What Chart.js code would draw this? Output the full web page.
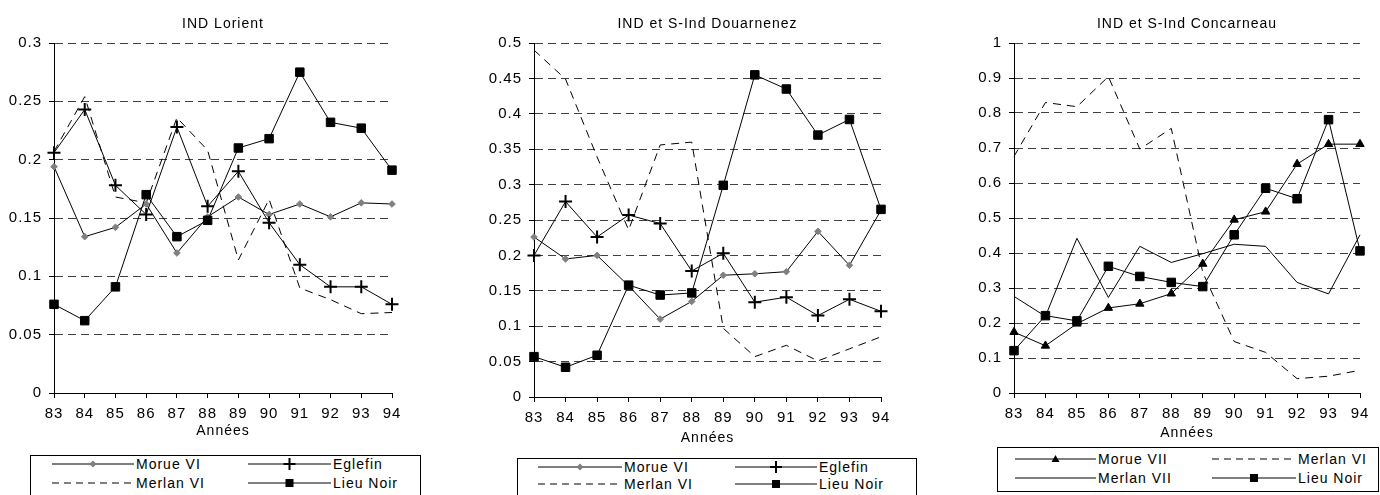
<!DOCTYPE html>
<html>
<head>
<meta charset="utf-8">
<script src="https://cdn.jsdelivr.net/npm/chart.js@4.4.1/dist/chart.umd.min.js"></script>
<style>
  body { margin: 0; width: 1380px; height: 495px; overflow: hidden; background: #fff;
         position: relative; font-family: "Liberation Sans", Arial, sans-serif; }
  canvas { position: absolute; top: 0; }
  .legend { position: absolute; border: 1px solid #000; box-sizing: border-box; background: #fff; }
  .item { position: absolute; height: 18px; display: flex; align-items: center;
          font-size: 14px; letter-spacing: 1px; white-space: nowrap; color: #000; }
  .item svg { display: block; margin-right: 2px; }
</style>
</head>
<body>
<canvas id="lorient"></canvas>
<canvas id="douarnenez"></canvas>
<canvas id="concarneau"></canvas>
<div class="legend" id="leg1" style="left:30px;top:455px;width:391px;height:60px"></div>
<div class="legend" id="leg2" style="left:517px;top:458px;width:400px;height:60px"></div>
<div class="legend" id="leg3" style="left:997px;top:447px;width:382px;height:45px"></div>
<script>
const FONT = '"Liberation Sans", Arial, sans-serif';

// ---------------------- Data ----------------------
const YEARS = ['83', '84', '85', '86', '87', '88', '89', '90', '91', '92', '93', '94'];

// IND Lorient
const lorientMorueVI   = [0.194, 0.134, 0.142, 0.162, 0.120, 0.151, 0.168, 0.153, 0.162, 0.151, 0.163, 0.162];
const lorientEglefin   = [0.206, 0.243, 0.178, 0.153, 0.228, 0.160, 0.190, 0.146, 0.110, 0.091, 0.091, 0.076];
const lorientMerlanVI  = [0.207, 0.254, 0.168, 0.163, 0.236, 0.208, 0.114, 0.166, 0.090, 0.080, 0.068, 0.069];
const lorientLieuNoir  = [0.076, 0.062, 0.091, 0.170, 0.134, 0.148, 0.210, 0.218, 0.275, 0.232, 0.227, 0.191];

// IND et S-Ind Douarnenez
const douarnMorueVI    = [0.226, 0.195, 0.200, 0.157, 0.110, 0.135, 0.172, 0.174, 0.177, 0.234, 0.186, 0.264];
const douarnEglefin    = [0.200, 0.276, 0.226, 0.257, 0.245, 0.178, 0.203, 0.134, 0.141, 0.115, 0.138, 0.121];
const douarnMerlanVI   = [0.490, 0.449, 0.339, 0.236, 0.356, 0.360, 0.097, 0.057, 0.073, 0.051, 0.068, 0.085];
const douarnLieuNoir   = [0.057, 0.042, 0.059, 0.158, 0.144, 0.147, 0.299, 0.455, 0.435, 0.370, 0.392, 0.265];

// IND et S-Ind Concarneau
const concMorueVII     = [0.174, 0.135, 0.198, 0.243, 0.255, 0.284, 0.369, 0.495, 0.518, 0.654, 0.711, 0.711];
const concMerlanVI     = [0.676, 0.830, 0.818, 0.904, 0.697, 0.756, 0.345, 0.147, 0.116, 0.041, 0.048, 0.065];
const concMerlanVII    = [0.276, 0.219, 0.442, 0.273, 0.419, 0.373, 0.398, 0.425, 0.419, 0.316, 0.283, 0.452];
const concLieuNoir     = [0.121, 0.221, 0.206, 0.362, 0.333, 0.316, 0.304, 0.452, 0.585, 0.555, 0.781, 0.406];

// ---------------------- Series styles ----------------------
// lower "order" is drawn on top
const base = { borderColor: '#000', borderWidth: 1, tension: 0, clip: false, fill: false };
const STYLE = {
  morue:   { ...base, order: 2, pointStyle: 'rectRot', pointRadius: 3.3, pointBackgroundColor: '#808080', pointBorderColor: '#808080', pointBorderWidth: 1 },
  eglefin: { ...base, order: 1, pointStyle: 'cross', pointRadius: 6.5, pointBorderColor: '#000', pointBorderWidth: 2 },
  merlan:  { ...base, order: 3, borderDash: [8, 6], pointRadius: 0 },
  merlan7: { ...base, order: 3, pointRadius: 0 },
  lieu:    { ...base, order: 0, pointStyle: 'rect', pointRadius: 6, pointBackgroundColor: '#000', pointBorderColor: '#000', pointBorderWidth: 1 },
  morue7:  { ...base, order: 1, pointStyle: 'triangle', pointRadius: 4.8, pointBackgroundColor: '#000', pointBorderColor: '#000', pointBorderWidth: 1 },
};

// canvas letter spacing (the original has wide text)
const spacing = { id: 'spacing', beforeDraw: (chart) => { chart.ctx.letterSpacing = '1px'; } };

// ---------------------- Chart factory ----------------------
function makePanel(id, cfg) {
  const cv = document.getElementById(id);
  cv.width = cfg.width;
  cv.height = cfg.bottom + cfg.xHeight;
  cv.style.left = cfg.left + 'px';

  return new Chart(cv, {
    type: 'line',
    data: { labels: YEARS, datasets: cfg.datasets },
    options: {
      responsive: false,
      animation: false,
      layout: { padding: { left: 0, right: cfg.width - cfg.right, top: 0, bottom: 0 } },
      plugins: {
        legend: { display: false },
        tooltip: { enabled: false },
        title: {
          display: true, fullSize: false, text: cfg.title, color: '#000',
          font: { family: FONT, size: 14, weight: 'normal' },
          padding: { top: 15.6, bottom: 10.6 },
        },
      },
      scales: {
        x: {
          offset: false,
          grid: { drawOnChartArea: false, drawTicks: true, tickLength: 5, color: '#000' },
          border: { color: '#000', width: 1 },
          ticks: { color: '#000', padding: 7, maxRotation: 0, autoSkip: false, font: { family: FONT, size: 15 } },
          title: { display: true, text: 'Années', color: '#000', padding: { top: 0, bottom: 0 }, font: { family: FONT, size: 14 } },
          afterFit: (s) => { s.height = cfg.xHeight; },
        },
        y: {
          min: 0, max: cfg.yMax,
          grid: { color: '#404040', lineWidth: 1, tickLength: 5, tickColor: '#000' },
          border: { color: '#000', width: 1, dash: [8, 5] },
          ticks: {
            stepSize: cfg.step, color: '#000', padding: 7,
            font: { family: FONT, size: 15 },
            callback: (v) => String(+Number(v).toFixed(2)),
          },
          afterFit: (s) => { s.width = cfg.axisLeft; },
        },
      },
    },
    plugins: [spacing],
  });
}

makePanel('lorient', {
  left: 0, width: 460, axisLeft: 54, right: 392, bottom: 393, xHeight: 47,
  title: 'IND Lorient', yMax: 0.3, step: 0.05,
  datasets: [
    { label: 'Morue VI', data: lorientMorueVI, ...STYLE.morue },
    { label: 'Eglefin', data: lorientEglefin, ...STYLE.eglefin },
    { label: 'Merlan VI', data: lorientMerlanVI, ...STYLE.merlan },
    { label: 'Lieu Noir', data: lorientLieuNoir, ...STYLE.lieu },
  ],
});

makePanel('douarnenez', {
  left: 460, width: 460, axisLeft: 74, right: 421, bottom: 397, xHeight: 50,
  title: 'IND et S-Ind Douarnenez', yMax: 0.5, step: 0.05,
  datasets: [
    { label: 'Morue VI', data: douarnMorueVI, ...STYLE.morue },
    { label: 'Eglefin', data: douarnEglefin, ...STYLE.eglefin },
    { label: 'Merlan VI', data: douarnMerlanVI, ...STYLE.merlan },
    { label: 'Lieu Noir', data: douarnLieuNoir, ...STYLE.lieu },
  ],
});

makePanel('concarneau', {
  left: 920, width: 460, axisLeft: 94, right: 440, bottom: 393, xHeight: 49,
  title: 'IND et S-Ind Concarneau', yMax: 1, step: 0.1,
  datasets: [
    { label: 'Morue VII', data: concMorueVII, ...STYLE.morue7 },
    { label: 'Merlan VI', data: concMerlanVI, ...STYLE.merlan },
    { label: 'Merlan VII', data: concMerlanVII, ...STYLE.merlan7 },
    { label: 'Lieu Noir', data: concLieuNoir, ...STYLE.lieu },
  ],
});

// ---------------------- Legends (HTML) ----------------------
function sample(w, kind) {
  const m = w / 2, y = 9;
  const line = `<line x1="0" y1="${y}" x2="${w}" y2="${y}" stroke="#000" stroke-width="1"` +
               (kind === 'dash' ? ' stroke-dasharray="7,5"' : '') + '/>';
  let mark = '';
  if (kind === 'diamond') mark = `<polygon points="${m - 3.5},${y} ${m},${y - 3.5} ${m + 3.5},${y} ${m},${y + 3.5}" fill="#808080"/>`;
  if (kind === 'plus') mark = `<path d="M${m - 6} ${y}H${m + 6}M${m} ${y - 6}V${y + 6}" stroke="#000" stroke-width="2"/>`;
  if (kind === 'square') mark = `<rect x="${m - 4}" y="${y - 4}" width="8" height="8" fill="#000"/>`;
  if (kind === 'triangle') mark = `<polygon points="${m - 4},${y + 3} ${m + 4},${y + 3} ${m},${y - 4}" fill="#000"/>`;
  return `<svg width="${w}" height="18">${line}${mark}</svg>`;
}

function buildLegend(id, box, items) {
  const el = document.getElementById(id);
  el.innerHTML = items.map(it =>
    `<div class="item" style="left:${it.x - box.x - 1}px;top:${it.y - box.y - 10}px">` +
    `${sample(it.w, it.kind)}<span>${it.text}</span></div>`).join('');
}

buildLegend('leg1', { x: 30, y: 455 }, [
  { x: 52, y: 464, w: 82, kind: 'diamond', text: 'Morue VI' },
  { x: 248, y: 464, w: 83, kind: 'plus', text: 'Eglefin' },
  { x: 52, y: 483, w: 82, kind: 'dash', text: 'Merlan VI' },
  { x: 248, y: 483, w: 83, kind: 'square', text: 'Lieu Noir' },
]);
buildLegend('leg2', { x: 517, y: 458 }, [
  { x: 538, y: 467, w: 84, kind: 'diamond', text: 'Morue VI' },
  { x: 735, y: 467, w: 82, kind: 'plus', text: 'Eglefin' },
  { x: 538, y: 484, w: 84, kind: 'dash', text: 'Merlan VI' },
  { x: 735, y: 484, w: 82, kind: 'square', text: 'Lieu Noir' },
]);
buildLegend('leg3', { x: 997, y: 447 }, [
  { x: 1015, y: 459, w: 81, kind: 'triangle', text: 'Morue VII' },
  { x: 1212, y: 459, w: 84, kind: 'dash', text: 'Merlan VI' },
  { x: 1015, y: 478, w: 81, kind: 'line', text: 'Merlan VII' },
  { x: 1212, y: 478, w: 84, kind: 'square', text: 'Lieu Noir' },
]);
</script>
</body>
</html>
